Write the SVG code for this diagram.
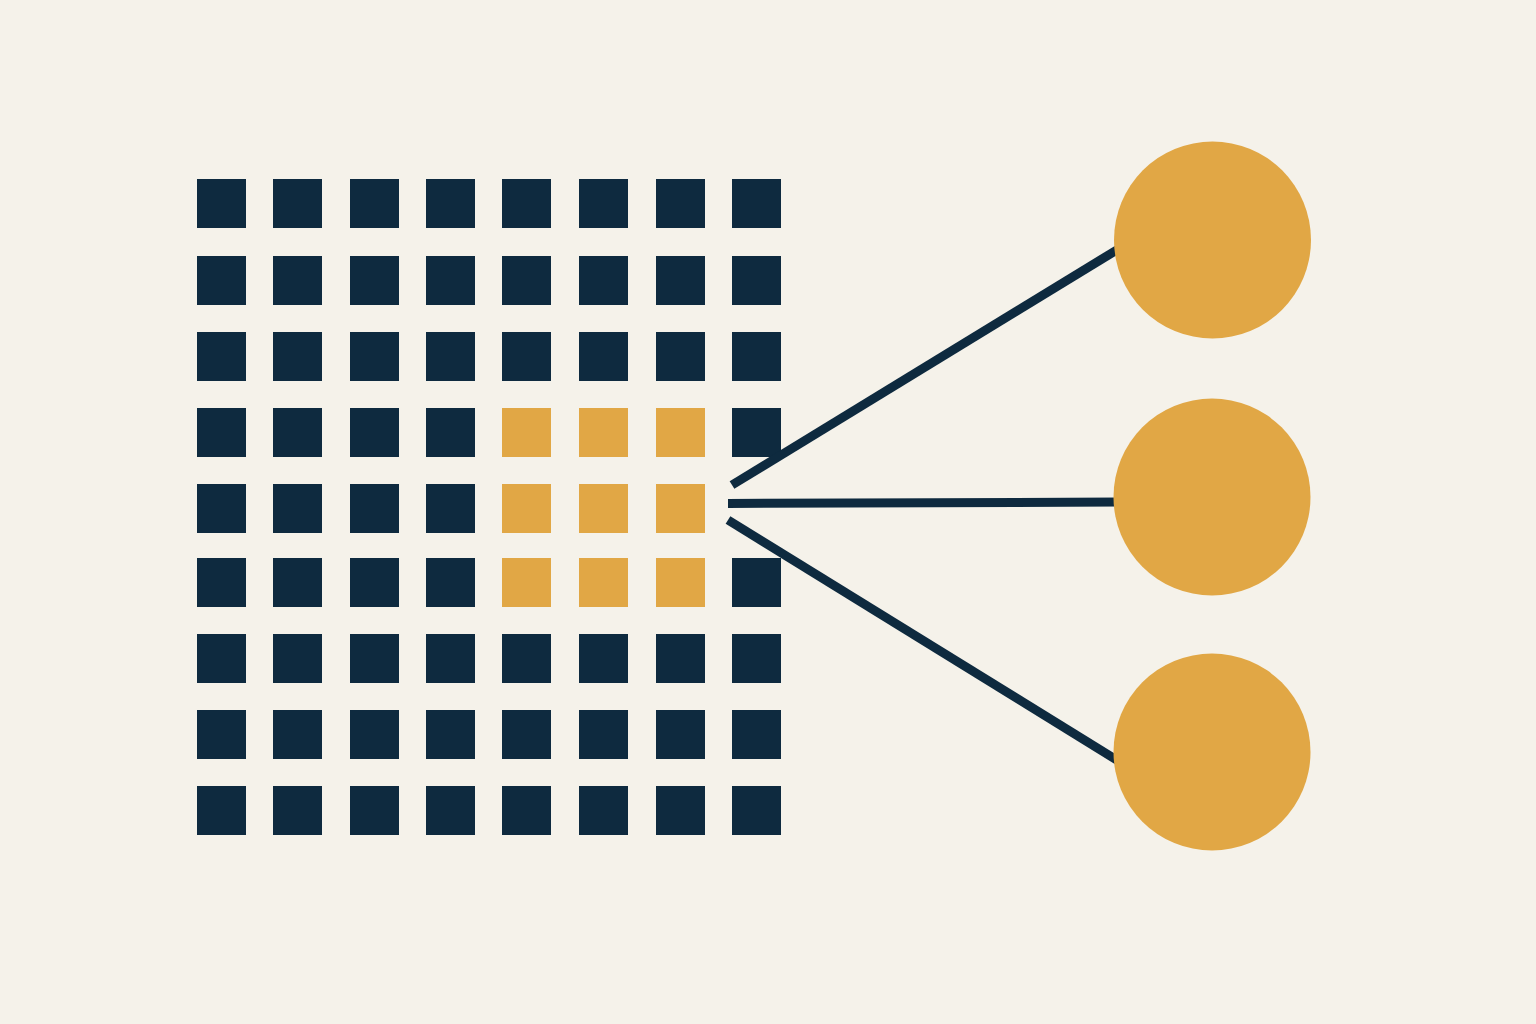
<svg xmlns="http://www.w3.org/2000/svg" width="1536" height="1024" viewBox="0 0 1536 1024">
<style>
.d{fill:#0e2a3f}
.y{fill:#e1a745}
.c{fill:#e1a745}
.l{stroke:#0e2a3f;stroke-width:9;fill:none;stroke-linecap:butt}
</style>
<rect width="1536" height="1024" fill="#f5f2ea"/>
<g id="grid">
<g id="row0"><rect class="d" x="197" y="179" width="49" height="49"/><rect class="d" x="273" y="179" width="49" height="49"/><rect class="d" x="350" y="179" width="49" height="49"/><rect class="d" x="426" y="179" width="49" height="49"/><rect class="d" x="502" y="179" width="49" height="49"/><rect class="d" x="579" y="179" width="49" height="49"/><rect class="d" x="656" y="179" width="49" height="49"/><rect class="d" x="732" y="179" width="49" height="49"/></g>
<g id="row1"><rect class="d" x="197" y="256" width="49" height="49"/><rect class="d" x="273" y="256" width="49" height="49"/><rect class="d" x="350" y="256" width="49" height="49"/><rect class="d" x="426" y="256" width="49" height="49"/><rect class="d" x="502" y="256" width="49" height="49"/><rect class="d" x="579" y="256" width="49" height="49"/><rect class="d" x="656" y="256" width="49" height="49"/><rect class="d" x="732" y="256" width="49" height="49"/></g>
<g id="row2"><rect class="d" x="197" y="332" width="49" height="49"/><rect class="d" x="273" y="332" width="49" height="49"/><rect class="d" x="350" y="332" width="49" height="49"/><rect class="d" x="426" y="332" width="49" height="49"/><rect class="d" x="502" y="332" width="49" height="49"/><rect class="d" x="579" y="332" width="49" height="49"/><rect class="d" x="656" y="332" width="49" height="49"/><rect class="d" x="732" y="332" width="49" height="49"/></g>
<g id="row3"><rect class="d" x="197" y="408" width="49" height="49"/><rect class="d" x="273" y="408" width="49" height="49"/><rect class="d" x="350" y="408" width="49" height="49"/><rect class="d" x="426" y="408" width="49" height="49"/><rect class="y" x="502" y="408" width="49" height="49"/><rect class="y" x="579" y="408" width="49" height="49"/><rect class="y" x="656" y="408" width="49" height="49"/><rect class="d" x="732" y="408" width="49" height="49"/></g>
<g id="row4"><rect class="d" x="197" y="484" width="49" height="49"/><rect class="d" x="273" y="484" width="49" height="49"/><rect class="d" x="350" y="484" width="49" height="49"/><rect class="d" x="426" y="484" width="49" height="49"/><rect class="y" x="502" y="484" width="49" height="49"/><rect class="y" x="579" y="484" width="49" height="49"/><rect class="y" x="656" y="484" width="49" height="49"/></g>
<g id="row5"><rect class="d" x="197" y="558" width="49" height="49"/><rect class="d" x="273" y="558" width="49" height="49"/><rect class="d" x="350" y="558" width="49" height="49"/><rect class="d" x="426" y="558" width="49" height="49"/><rect class="y" x="502" y="558" width="49" height="49"/><rect class="y" x="579" y="558" width="49" height="49"/><rect class="y" x="656" y="558" width="49" height="49"/><rect class="d" x="732" y="558" width="49" height="49"/></g>
<g id="row6"><rect class="d" x="197" y="634" width="49" height="49"/><rect class="d" x="273" y="634" width="49" height="49"/><rect class="d" x="350" y="634" width="49" height="49"/><rect class="d" x="426" y="634" width="49" height="49"/><rect class="d" x="502" y="634" width="49" height="49"/><rect class="d" x="579" y="634" width="49" height="49"/><rect class="d" x="656" y="634" width="49" height="49"/><rect class="d" x="732" y="634" width="49" height="49"/></g>
<g id="row7"><rect class="d" x="197" y="710" width="49" height="49"/><rect class="d" x="273" y="710" width="49" height="49"/><rect class="d" x="350" y="710" width="49" height="49"/><rect class="d" x="426" y="710" width="49" height="49"/><rect class="d" x="502" y="710" width="49" height="49"/><rect class="d" x="579" y="710" width="49" height="49"/><rect class="d" x="656" y="710" width="49" height="49"/><rect class="d" x="732" y="710" width="49" height="49"/></g>
<g id="row8"><rect class="d" x="197" y="786" width="49" height="49"/><rect class="d" x="273" y="786" width="49" height="49"/><rect class="d" x="350" y="786" width="49" height="49"/><rect class="d" x="426" y="786" width="49" height="49"/><rect class="d" x="502" y="786" width="49" height="49"/><rect class="d" x="579" y="786" width="49" height="49"/><rect class="d" x="656" y="786" width="49" height="49"/><rect class="d" x="732" y="786" width="49" height="49"/></g>
</g>
<g id="connectors">
<line class="l" x1="732" y1="485" x2="1120" y2="248"/>
<line class="l" x1="728" y1="503.5" x2="1120" y2="502"/>
<line class="l" x1="728" y1="520" x2="1120" y2="762"/>
</g>
<g id="node1"><circle class="c" cx="1212.5" cy="240" r="98.5"/></g>
<g id="node2"><circle class="c" cx="1212" cy="497" r="98.5"/></g>
<g id="node3"><circle class="c" cx="1212" cy="752" r="98.5"/></g>
</svg>
